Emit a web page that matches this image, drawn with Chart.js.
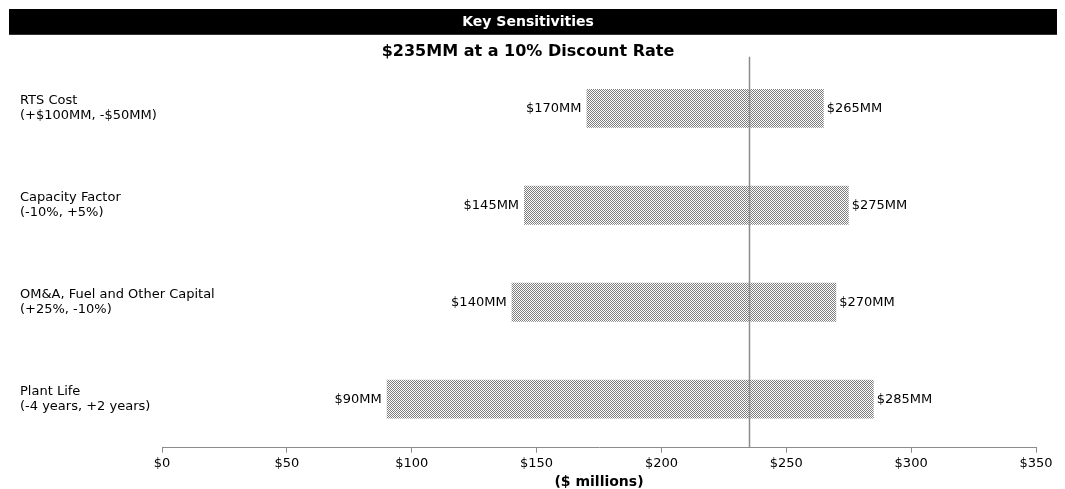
<!DOCTYPE html>
<html>
<head>
<meta charset="utf-8">
<script src="https://cdn.jsdelivr.net/npm/chart.js@4"></script>
<style>
  html, body { margin: 0; padding: 0; background: #fff; overflow: hidden; }
  #wrap { width: 1065px; height: 489px; position: relative; }
</style>
</head>
<body>
<div id="wrap"><canvas id="sensitivity-chart"></canvas></div>
<script>
const categories = [
  ["RTS Cost", "(+$100MM, -$50MM)"],
  ["Capacity Factor", "(-10%, +5%)"],
  ["OM&A, Fuel and Other Capital", "(+25%, -10%)"],
  ["Plant Life", "(-4 years, +2 years)"],
];
const lowValues = [170, 145, 140, 90];
const highValues = [265, 275, 270, 285];
const baseValue = 235;
const xTicks = [0, 50, 100, 150, 200, 250, 300, 350];

const chartCanvas = document.getElementById("sensitivity-chart").getContext("2d");

// dotted fill like the old Excel pattern
const patternCanvas = document.createElement("canvas");
patternCanvas.width = 2;
patternCanvas.height = 2;
const pctx = patternCanvas.getContext("2d");
pctx.fillStyle = "#ffffff";
pctx.fillRect(0, 0, 2, 2);
pctx.fillStyle = "#7c7c7c";
pctx.fillRect(0, 0, 1, 1);
pctx.fillRect(1, 1, 1, 1);
const dotPattern = chartCanvas.createPattern(patternCanvas, "repeat");

const textFont = "'DejaVu Sans', Verdana, sans-serif";

//Black band behind the main title
const titleBand = {
  id: "titleBand",
  beforeDraw(chart) {
    const tb = chart.titleBlock;
    if (!tb) return;
    const ctx = chart.ctx;
    ctx.save();
    ctx.fillStyle = "#000";
    ctx.fillRect(9, tb.top, chart.width - 17, tb.bottom - tb.top);
    ctx.restore();
  },
};

//Base case line + end labels
const sensitivityMarks = {
  id: "sensitivityMarks",
  afterDatasetsDraw(chart) {
    const ctx = chart.ctx;
    const xScale = chart.scales.x;
    const area = chart.chartArea;
    const meta = chart.getDatasetMeta(0);

    ctx.save();
    ctx.font = "13px " + textFont;
    ctx.fillStyle = "#000";
    ctx.textBaseline = "middle";
    meta.data.forEach((bar, i) => {
      const lowX = xScale.getPixelForValue(lowValues[i]);
      const highX = xScale.getPixelForValue(highValues[i]);
      ctx.textAlign = "right";
      ctx.fillText("$" + lowValues[i] + "MM", lowX - 5, bar.y);
      ctx.textAlign = "left";
      ctx.fillText("$" + highValues[i] + "MM", highX + 3, bar.y);
    });

    const baseX = Math.round(xScale.getPixelForValue(baseValue)) + 0.5;
    ctx.strokeStyle = "#8c8c8c";
    ctx.lineWidth = 1.5;
    ctx.beginPath();
    ctx.moveTo(baseX, area.top - 3);
    ctx.lineTo(baseX, area.bottom);
    ctx.stroke();
    ctx.restore();
  },
};

const config = {
  type: "bar",
  data: {
    labels: categories,
    datasets: [
      {
        data: lowValues.map((v, i) => [v, highValues[i]]),
        backgroundColor: dotPattern,
        borderWidth: 0,
        categoryPercentage: 0.8,
        barPercentage: 0.5,
      },
    ],
  },
  options: {
    indexAxis: "y",
    responsive: true,
    maintainAspectRatio: false,
    animation: false,
    layout: {
      padding: { top: 9, left: 20, right: 29, bottom: 0 },
    },
    scales: {
      x: {
        min: 0,
        max: 350,
        afterBuildTicks: (scale) => {
          scale.ticks = xTicks.map((v) => ({ value: v }));
        },
        ticks: {
          callback: (v) => "$" + v,
          color: "#000",
          padding: 4,
          maxRotation: 0,
          font: { family: textFont, size: 13, lineHeight: 1.1 },
        },
        grid: {
          drawOnChartArea: false,
          drawTicks: true,
          tickLength: 5,
          color: "#8c8c8c",
        },
        border: { color: "#8c8c8c", width: 1 },
        title: {
          display: true,
          text: "($ millions)",
          color: "#000",
          padding: { top: 0, bottom: 0 },
          font: { family: textFont, size: 14, weight: "bold", lineHeight: 1 },
        },
      },
      y: {
        // labels sit left-aligned at x=20; mirror avoids clipping to the axis box
        afterFit: (scale) => {
          scale.width = 142;
        },
        ticks: {
          mirror: true,
          crossAlign: "near",
          padding: -142,
          color: "#000",
          font: { family: textFont, size: 13, lineHeight: 1.15 },
        },
        grid: { display: false, drawTicks: false },
        border: { display: false },
      },
    },
    plugins: {
      legend: { display: false },
      tooltip: { enabled: false },
      title: {
        display: true,
        text: "Key Sensitivities",
        color: "#fff",
        padding: { top: 5, bottom: 4 },
        font: { family: textFont, size: 14, weight: "bold", lineHeight: 1.2 },
      },
      subtitle: {
        display: true,
        text: "$235MM at a 10% Discount Rate",
        color: "#000",
        padding: { top: 9, bottom: 0 },
        font: { family: textFont, size: 16, weight: "bold", lineHeight: 1 },
      },
    },
  },
  plugins: [titleBand, sensitivityMarks],
};

const sensitivityChart = new Chart(chartCanvas, config);
</script>
</body>
</html>
